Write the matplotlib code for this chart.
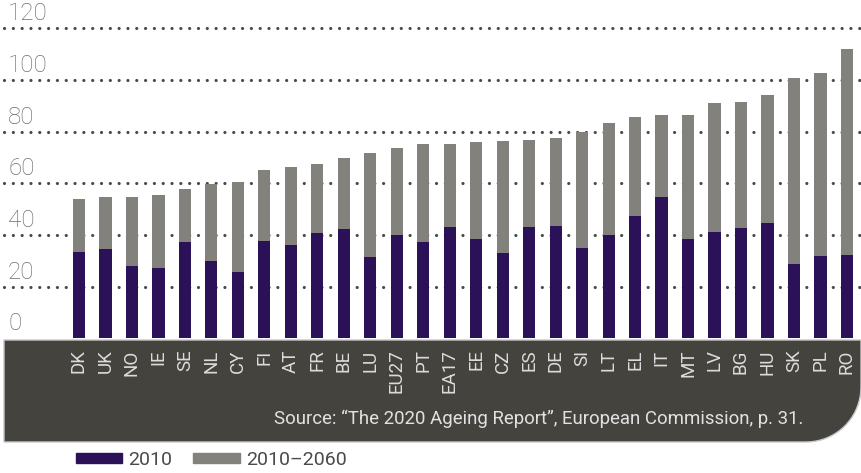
import numpy as np
import matplotlib
matplotlib.use("Agg")
import matplotlib.pyplot as plt
from matplotlib.path import Path
from matplotlib.patches import PathPatch, Patch

plt.rcParams['font.family'] = ['Roboto', 'DejaVu Sans']

countries = ['DK', 'UK', 'NO', 'IE', 'SE', 'NL', 'CY', 'FI', 'AT', 'FR',
             'BE', 'LU', 'EU27', 'PT', 'EA17', 'EE', 'CZ', 'ES', 'DE', 'SI',
             'LT', 'EL', 'IT', 'MT', 'LV', 'BG', 'HU', 'SK', 'PL', 'RO']
# level in 2010 and level reached by 2060 (top of stacked bar)
v2010 = [33.5, 34.5, 28.0, 27.2, 37.3, 29.9, 25.6, 37.6, 36.1, 40.7,
         42.3, 31.5, 40.0, 37.3, 43.1, 38.4, 33.0, 43.1, 43.4, 34.9,
         40.0, 47.3, 54.7, 38.4, 41.1, 42.7, 44.6, 28.7, 31.8, 32.2]
v2060 = [53.9, 54.7, 54.7, 55.5, 57.8, 59.7, 60.5, 65.1, 66.3, 67.4,
         69.7, 71.7, 73.6, 75.2, 75.2, 75.9, 76.3, 76.7, 77.5, 79.8,
         83.3, 85.6, 86.4, 86.4, 91.0, 91.4, 94.1, 100.7, 102.6, 111.9]
yticks = [0, 20, 40, 60, 80, 100, 120]
source = "Source: \u201cThe 2020 Ageing Report\u201d, European Commission, p. 31."

purple = '#2b1158'
grey = '#82817c'
band = '#45433e'

W, H = 862, 473
fig = plt.figure(figsize=(W / 100, H / 100), dpi=100)

# axes: full width, zero line at y=338 px from top
y0 = 338.3
ppu = 2.583          # pixels per unit
step = 26.48         # pixels between bars
x0 = 79
ax = fig.add_axes([0, (H - y0) / H, 1, y0 / H])
ax.set_xlim(-x0 / step, (W - x0) / step)
ax.set_ylim(0, y0 / ppu)
ax.patch.set_visible(False)
for s in ax.spines.values():
    s.set_visible(False)

x = np.arange(len(countries))
inc = np.array(v2060) - np.array(v2010)
ax.bar(x, v2010, width=0.46, color=purple, zorder=3)
ax.bar(x, inc, bottom=v2010, width=0.46, color=grey, zorder=3)

# dotted grid lines and labels sitting on them
xl = ax.get_xlim()
for v in yticks:
    if v > 0:
        ax.plot([xl[0] + 4 / step, xl[1]], [v, v], color='#4a4a4a', lw=2.3,
                linestyle=(0, (0.01, 2.75)), dash_capstyle='round', zorder=1)
    ax.text(xl[0] + 8 / step, v + 1.2, str(v), ha='left', va='bottom',
            fontsize=17.5, fontweight='light', color='#6e6e6e')

ax.set_yticks([])
ax.set_xticks(x)
ax.set_xticklabels(countries, rotation=90, fontsize=13.5, color='#dcdcdc')
ax.tick_params(axis='x', length=0, pad=8)

# dark band with rounded bottom-right corner (pixel coords -> inches)
top, bot, left, right, r = 340, 442, 4, 861, 55
pts = [(left, top), (right, top), (right, bot - r)]
th = np.linspace(0, np.pi / 2, 20)
pts += [(right - r + r * np.cos(t), bot - r + r * np.sin(t)) for t in th]
pts += [(left, bot), (left, top)]
verts = [(px / 100, (H - py) / 100) for px, py in pts]
codes = [Path.MOVETO] + [Path.LINETO] * (len(verts) - 2) + [Path.CLOSEPOLY]
fig.patches.append(PathPatch(Path(verts, codes), facecolor=band,
                             edgecolor='#c8c8c8', lw=1,
                             transform=fig.dpi_scale_trans, zorder=-1))

fig.text(803 / W, (H - 424) / H, source, ha='right', va='baseline',
         fontsize=13.4, color='#e2e2e2')

fig.legend(handles=[Patch(color=purple), Patch(color=grey)],
           labels=['2010', '2010\u20132060'], ncol=2, frameon=False,
           loc='center left', bbox_to_anchor=(58 / W, (H - 460) / H),
           fontsize=14, handlelength=2.4, handleheight=0.35,
           handletextpad=0.3, columnspacing=1.1, labelcolor='#4a4a4a')

fig.savefig('out.png', dpi=100)
